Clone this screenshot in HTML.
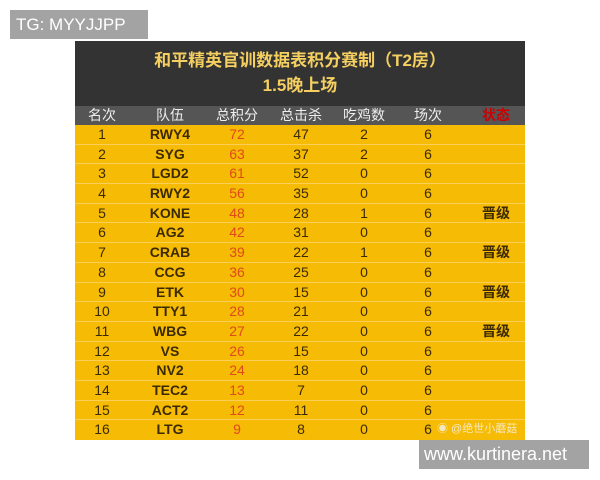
<!DOCTYPE html>
<html><head><meta charset="utf-8"><style>
body{margin:0;width:600px;height:480px;background:#fff;position:relative;overflow:hidden;font-family:"Liberation Sans","Noto Sans CJK SC",sans-serif}
.tg{position:absolute;left:10px;top:10px;width:138px;height:29px;background:#a3a3a3;color:#fff;font-size:17px;line-height:29px;padding-left:6px;box-sizing:border-box}
.ww{position:absolute;left:419px;top:440px;width:170px;height:29px;background:#a3a3a3;color:#fff;font-size:18px;line-height:29px;padding-left:5px;box-sizing:border-box}
.tb{position:absolute;left:75px;top:41px;width:450px;height:399px;background:#f6bb05}
.hd{height:65px;background:#333;color:#f5d060;font-weight:bold;text-align:center}
.hd div:first-child{font-size:17px;padding-top:9px;line-height:22px}
.hd div:last-child{font-size:17px;line-height:22px;margin-top:3px}
.row{display:flex;height:19.7px;line-height:19.7px;font-size:14px;color:#3b2a00;border-bottom:1px solid #f9cf5a;box-sizing:border-box}
.ch{background:#555;color:#eee;height:19px;line-height:19px;border:none}
.row span{text-align:center}
.c1{width:54px}.c2{width:82px;font-weight:bold}.c3{width:52px;color:#e0491a}.c4{width:76px}.c5{width:50px}.c6{width:78px}.c7{width:58px;font-weight:bold}
.ch .c3{color:#eee}.ch .c2{font-weight:normal}.ch .c7{color:#c00}
</style></head><body>
<div class="tg">TG: MYYJJPP</div>
<div class="tb">
<div class="hd"><div>和平精英官训数据表积分赛制（T2房）</div><div>1.5晚上场</div></div>
<div class="row ch"><span class="c1">名次</span><span class="c2">队伍</span><span class="c3">总积分</span><span class="c4">总击杀</span><span class="c5">吃鸡数</span><span class="c6">场次</span><span class="c7">状态</span></div>
<div class="row"><span class="c1">1</span><span class="c2">RWY4</span><span class="c3">72</span><span class="c4">47</span><span class="c5">2</span><span class="c6">6</span><span class="c7"></span></div>
<div class="row"><span class="c1">2</span><span class="c2">SYG</span><span class="c3">63</span><span class="c4">37</span><span class="c5">2</span><span class="c6">6</span><span class="c7"></span></div>
<div class="row"><span class="c1">3</span><span class="c2">LGD2</span><span class="c3">61</span><span class="c4">52</span><span class="c5">0</span><span class="c6">6</span><span class="c7"></span></div>
<div class="row"><span class="c1">4</span><span class="c2">RWY2</span><span class="c3">56</span><span class="c4">35</span><span class="c5">0</span><span class="c6">6</span><span class="c7"></span></div>
<div class="row"><span class="c1">5</span><span class="c2">KONE</span><span class="c3">48</span><span class="c4">28</span><span class="c5">1</span><span class="c6">6</span><span class="c7">晋级</span></div>
<div class="row"><span class="c1">6</span><span class="c2">AG2</span><span class="c3">42</span><span class="c4">31</span><span class="c5">0</span><span class="c6">6</span><span class="c7"></span></div>
<div class="row"><span class="c1">7</span><span class="c2">CRAB</span><span class="c3">39</span><span class="c4">22</span><span class="c5">1</span><span class="c6">6</span><span class="c7">晋级</span></div>
<div class="row"><span class="c1">8</span><span class="c2">CCG</span><span class="c3">36</span><span class="c4">25</span><span class="c5">0</span><span class="c6">6</span><span class="c7"></span></div>
<div class="row"><span class="c1">9</span><span class="c2">ETK</span><span class="c3">30</span><span class="c4">15</span><span class="c5">0</span><span class="c6">6</span><span class="c7">晋级</span></div>
<div class="row"><span class="c1">10</span><span class="c2">TTY1</span><span class="c3">28</span><span class="c4">21</span><span class="c5">0</span><span class="c6">6</span><span class="c7"></span></div>
<div class="row"><span class="c1">11</span><span class="c2">WBG</span><span class="c3">27</span><span class="c4">22</span><span class="c5">0</span><span class="c6">6</span><span class="c7">晋级</span></div>
<div class="row"><span class="c1">12</span><span class="c2">VS</span><span class="c3">26</span><span class="c4">15</span><span class="c5">0</span><span class="c6">6</span><span class="c7"></span></div>
<div class="row"><span class="c1">13</span><span class="c2">NV2</span><span class="c3">24</span><span class="c4">18</span><span class="c5">0</span><span class="c6">6</span><span class="c7"></span></div>
<div class="row"><span class="c1">14</span><span class="c2">TEC2</span><span class="c3">13</span><span class="c4">7</span><span class="c5">0</span><span class="c6">6</span><span class="c7"></span></div>
<div class="row"><span class="c1">15</span><span class="c2">ACT2</span><span class="c3">12</span><span class="c4">11</span><span class="c5">0</span><span class="c6">6</span><span class="c7"></span></div>
<div class="row" style="border:none"><span class="c1">16</span><span class="c2">LTG</span><span class="c3">9</span><span class="c4">8</span><span class="c5">0</span><span class="c6">6</span><span class="c7" style="font-weight:normal;font-size:11px;color:#f5e8c0;width:auto;margin-left:-30px">◉ @绝世小蘑菇</span></div>
</div>
<div class="ww">www.kurtinera.net</div>
</body></html>
